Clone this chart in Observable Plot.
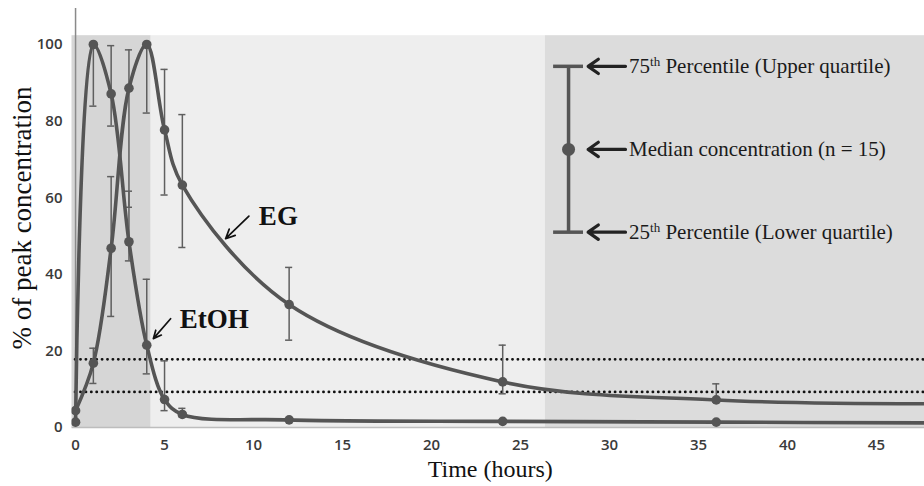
<!DOCTYPE html>
<html><head><meta charset="utf-8">
<script src="https://cdn.jsdelivr.net/npm/d3@7"></script>
<script src="https://cdn.jsdelivr.net/npm/@observablehq/plot@0.6"></script>
<style>body{margin:0;background:#fff;}</style>
</head><body><div id="chart"></div>
<script>
// ---- data ----
const times      = [0, 1, 2, 3, 4, 5, 6, 12, 24, 36, 48];
const egMedian   = [4.4, 16.8, 46.8, 88.6, 100, 77.7, 63.3, 32.1, 11.9, 7.2, 6.2];
const egQ1       = [null, 11.5, 29, 57.5, 82.1, 60.7, 47, 22.8, 8.8, 6.6, null];
const egQ3       = [null, 20.7, 65.5, 98.6, 100, 93.5, 81.7, 41.8, 21.5, 11.4, null];
const etohMedian = [1.4, 100, 87.1, 48.5, 21.5, 7.3, 3.4, 2.0, 1.6, 1.4, 1.2];
const etohQ1     = [null, 83.9, 78.7, 43.5, 14, 4.4, 2.8, null, null, null, null];
const etohQ3     = [null, 100, 99.7, 61.7, 38.7, 17.4, 5, null, null, null, null];
const xTicks     = [0, 5, 10, 15, 20, 25, 30, 35, 40, 45];
const yTicks     = [0, 20, 40, 60, 80, 100];
const thresholds = [17.8, 9.3];
const bandEdges  = [-0.2, 4.25, 26.4, 47.7];
const bandTop    = 102.3;
const legendLabels = ["75th Percentile (Upper quartile)", "Median concentration (n = 15)", "25th Percentile (Lower quartile)"];
const legendY    = [94.3, 72.6, 51.0];

// annotation anchors (data units)
const ann = {
  keyX: 27.7, keyCap: 0.84, arrowFrom: 30.9, arrowTo: 28.8, textX: 31.1,
  eg:   {tx: 10.3, ty: 55.1, x1: 9.74, y1: 55.2, x2: 8.43, y2: 49.3},
  etoh: {tx: 5.85, ty: 28.2, x1: 5.34, y1: 28.4, x2: 4.37, y2: 23.2},
  xLabelX: 23.3
};

const mk = (med, q1, q3) => times.map((t, i) => ({t, v: med[i], lo: q1[i], hi: q3[i]}));
const eg = mk(egMedian, egQ1, egQ3);
const etoh = mk(etohMedian, etohQ1, etohQ3);
const errs = eg.concat(etoh).filter(d => d.lo != null);
const bands = [
  {x1: bandEdges[0], x2: bandEdges[1], fill: "#d6d6d6"},
  {x1: bandEdges[1], x2: bandEdges[2], fill: "#eeeeee"},
  {x1: bandEdges[2], x2: bandEdges[3], fill: "#dcdcdc"}
];
const capHalf = 0.2;
const lineColor = "#555555";
const serif = "Liberation Serif";

const legendRows = legendLabels.map((s, i) => ({s, y: legendY[i]}));

const svg = Plot.plot({
  width: 924, height: 486,
  marginLeft: 71.5, marginRight: 0, marginTop: 8, marginBottom: 59,
  style: {fontFamily: "Open Sans", fontSize: "15px", fontWeight: 600, color: "#3a3a3a", background: "#fff"},
  x: {domain: [bandEdges[0], bandEdges[3]], ticks: xTicks, tickSize: 0, tickPadding: 12, label: null},
  y: {domain: [0, 109.4], ticks: yTicks, tickSize: 0, tickPadding: 9.5, label: null},
  marks: [
    Plot.rect(bands, {x1: "x1", x2: "x2", y1: 0, y2: bandTop, fill: d => d.fill}),
    Plot.ruleY([0], {stroke: "#bdbdbd", strokeWidth: 1.5}),
    Plot.ruleX([0], {stroke: "#8a8a8a", strokeWidth: 1.5}),
    Plot.ruleY(thresholds, {x1: 0, x2: bandEdges[3], stroke: "#111", strokeWidth: 2.8, strokeDasharray: "0.1,5.3", strokeLinecap: "round"}),
    // error bars
    Plot.ruleX(errs, {x: "t", y1: "lo", y2: "hi", stroke: "#5f5f5f", strokeWidth: 1.5}),
    Plot.ruleY(errs, {y: "lo", x1: d => d.t - capHalf, x2: d => d.t + capHalf, stroke: "#5f5f5f", strokeWidth: 1.5}),
    Plot.ruleY(errs, {y: "hi", x1: d => d.t - capHalf, x2: d => d.t + capHalf, stroke: "#5f5f5f", strokeWidth: 1.5}),
    // curves
    Plot.line(eg, {x: "t", y: "v", curve: "catmull-rom", stroke: lineColor, strokeWidth: 3.6, clip: true}),
    Plot.line(etoh, {x: "t", y: "v", curve: "catmull-rom", stroke: lineColor, strokeWidth: 3.6, clip: true}),
    Plot.dot(eg, {x: "t", y: "v", r: 4.8, fill: lineColor, clip: true}),
    Plot.dot(etoh, {x: "t", y: "v", r: 4.8, fill: lineColor, clip: true}),
    // key glyph
    Plot.ruleX([ann.keyX], {y1: legendY[2], y2: legendY[0], stroke: lineColor, strokeWidth: 3.5}),
    Plot.ruleY([legendY[0], legendY[2]], {x1: ann.keyX - ann.keyCap, x2: ann.keyX + ann.keyCap, stroke: lineColor, strokeWidth: 3.5}),
    Plot.dot([legendY[1]], {x: ann.keyX, y: d => d, r: 6.5, fill: lineColor}),
    Plot.arrow(legendRows, {x1: ann.arrowFrom, x2: ann.arrowTo, y1: "y", y2: "y", stroke: "#222", strokeWidth: 3.2, headLength: 11, headAngle: 70}),
    Plot.text(legendRows, {x: ann.textX, y: "y", text: "s", textAnchor: "start", fontFamily: serif, fontSize: 21, fontWeight: 400, fill: "#1a1a1a"}),
    // series labels
    Plot.arrow([ann.eg], {x1: "x1", y1: "y1", x2: "x2", y2: "y2", stroke: "#111", strokeWidth: 1.7, headLength: 9, headAngle: 50}),
    Plot.arrow([ann.etoh], {x1: "x1", y1: "y1", x2: "x2", y2: "y2", stroke: "#111", strokeWidth: 1.7, headLength: 9, headAngle: 50}),
    Plot.text([ann.eg], {x: "tx", y: "ty", text: () => "EG", textAnchor: "start", fontFamily: serif, fontSize: 27, fontWeight: 700, fill: "#111"}),
    Plot.text([ann.etoh], {x: "tx", y: "ty", text: () => "EtOH", textAnchor: "start", fontFamily: serif, fontSize: 27, fontWeight: 700, fill: "#111"}),
    // axis titles
    Plot.text(["Time (hours)"], {x: ann.xLabelX, frameAnchor: "bottom", dy: 49, text: d => d, fontFamily: serif, fontSize: 24, fontWeight: 400, fill: "#111"}),
    Plot.text(["% of peak concentration"], {frameAnchor: "left", textAnchor: "middle", dx: -50, rotate: -90, text: d => d, fontFamily: serif, fontSize: 27, fontWeight: 400, fill: "#111"})
  ]
});

// superscript ordinals
d3.select(svg).selectAll("text").each(function() {
  const s = this.textContent;
  const m = s.match(/^(\d+)(th)(\s.*)$/);
  if (!m) return;
  const t = d3.select(this);
  t.text(null);
  t.append("tspan").text(m[1]);
  t.append("tspan").attr("dy", "-7").attr("font-size", 13).text(m[2]);
  t.append("tspan").attr("dy", "7").text(m[3]);
});

document.getElementById("chart").appendChild(svg);
</script>
</body></html>
